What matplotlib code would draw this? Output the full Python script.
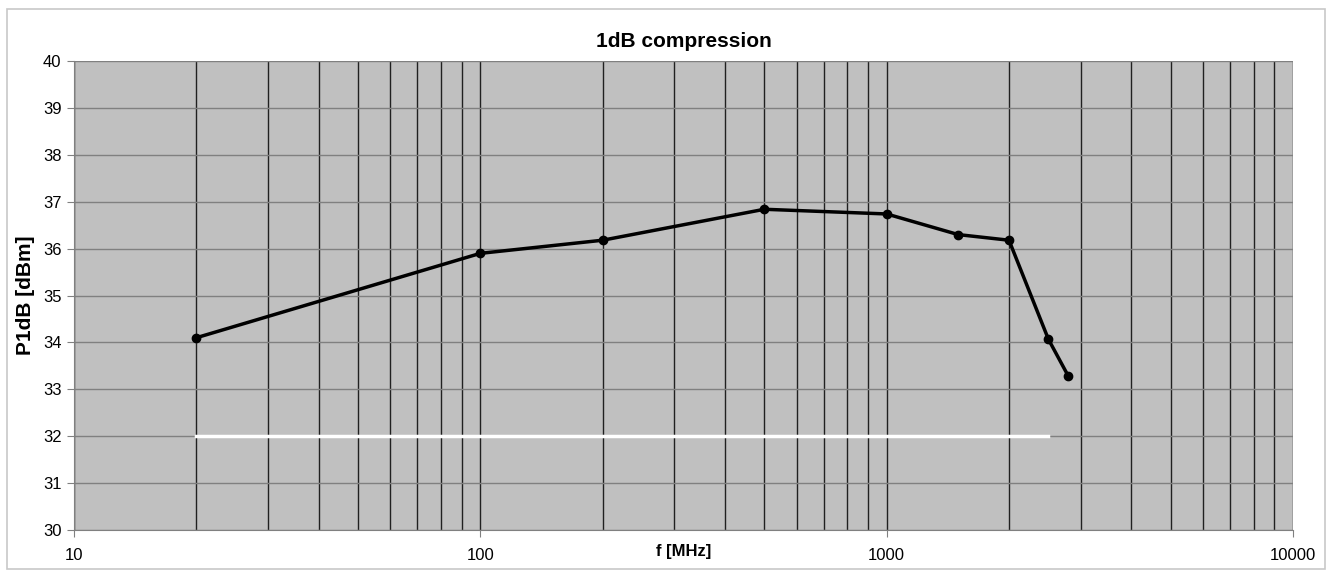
import matplotlib.pyplot as plt
from matplotlib.patches import Rectangle
from matplotlib.ticker import LogLocator, NullFormatter, FixedLocator, FixedFormatter

plt.rcParams['font.family'] = ['Liberation Sans', 'DejaVu Sans']

freq = [20, 100, 200, 500, 1000, 1500, 2000, 2500, 2800]
p1db = [34.1, 35.9, 36.18, 36.84, 36.74, 36.3, 36.18, 34.07, 33.28]
spec_freq = [20, 2500]
spec_level = [32, 32]

fig = plt.figure(figsize=(13.33, 5.71), dpi=100)
ax = fig.add_axes([0.0555, 0.0718, 0.9145, 0.8212])
fig.patches.append(Rectangle((0.005, 0.004), 0.989, 0.981, transform=fig.transFigure,
                             fill=False, edgecolor='#c8c8c8', linewidth=1.2))

ax.set_facecolor('#c0c0c0')
ax.set_xscale('log')
ax.set_xlim(10, 10000)
ax.set_ylim(30, 40)
ax.set_yticks(range(30, 41))
ax.xaxis.set_major_locator(FixedLocator([10, 100, 1000, 10000]))
ax.xaxis.set_major_formatter(FixedFormatter(['10', '100', '1000', '10000']))
ax.xaxis.set_minor_locator(LogLocator(base=10, subs=range(2, 10)))
ax.xaxis.set_minor_formatter(NullFormatter())

ax.grid(True, axis='y', color='#808080', linewidth=1)
ax.grid(True, axis='x', which='both', color='#202020', linewidth=1)
ax.set_axisbelow(True)
for side in ['top', 'right']:
    ax.spines[side].set_visible(False)
ax.spines['left'].set_color('#808080')
ax.spines['bottom'].set_color('#808080')
ax.tick_params(axis='y', length=5, color='#808080', labelsize=12, pad=4)
ax.tick_params(axis='x', which='major', length=5, color='#808080', labelsize=12, pad=8)
ax.tick_params(axis='x', which='minor', length=0)

ax.plot(spec_freq, spec_level, color='white', linewidth=2.5, zorder=3)
ax.plot(freq, p1db, color='black', linewidth=2.5, marker='o', markersize=6, zorder=4)

ax.set_title('1dB compression', fontsize=15, fontweight='bold', pad=10)
ax.set_ylabel('P1dB [dBm]', fontsize=15, fontweight='bold', labelpad=6)
ax.set_xlabel('f [MHz]', fontsize=12, fontweight='bold', labelpad=-14)

plt.savefig('out.png', dpi=100)
